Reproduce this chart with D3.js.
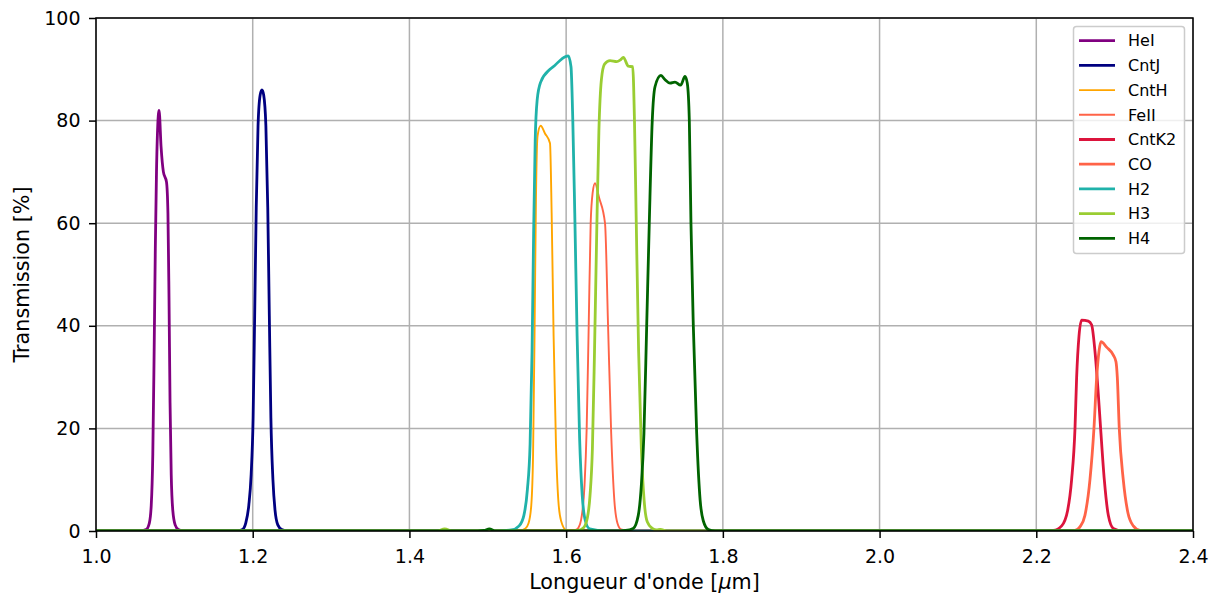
<!DOCTYPE html>
<html><head><meta charset="utf-8">
<script src="https://cdn.jsdelivr.net/npm/d3@7"></script>
<style>body{margin:0;background:#fff}svg{display:block}text{font-family:"DejaVu Sans",sans-serif}</style>
</head><body><svg id="c" width="1217" height="594"></svg>
<script>
const xTicks = [1.0,1.2,1.4,1.6,1.8,2.0,2.2,2.4];
const yTicks = [0,20,40,60,80,100];
const names = ["HeI","CntJ","CntH","FeII","CntK2","CO","H2","H3","H4"];
const colors = ["#800080","#000080","#FFA500","#FF6347","#DC143C","#FF6347","#20B2AA","#9ACD32","#006400"];
const widths = [2.8,2.8,1.9,1.9,2.8,2.8,2.8,2.8,2.8];

const HeI = [[0.95,0],[1.055,0],[1.064,0.3],[1.068,1.5],[1.0705,5],[1.0725,15],[1.0742,35],[1.0757,55],[1.0772,70],[1.0788,79],[1.0805,82],[1.0830,75],[1.0860,70],[1.0900,68],[1.0918,62],[1.0932,45],[1.0945,25],[1.0960,11],[1.0980,4],[1.101,1.2],[1.105,0.3],[1.112,0],[2.45,0]];
const CntJ = [[0.95,0],[1.180,0],[1.187,0.3],[1.191,1.5],[1.195,5],[1.198,11],[1.2005,22],[1.2025,42],[1.2045,63],[1.2068,79],[1.2095,85],[1.2118,86],[1.214,85],[1.2168,79],[1.2192,63],[1.2212,42],[1.2232,22],[1.2258,10],[1.2285,4],[1.232,1.2],[1.237,0.3],[1.245,0],[2.45,0]];
const CntH = [[0.95,0],[1.50,0],[1.540,0.1],[1.548,0.5],[1.552,1.5],[1.5555,5],[1.5578,15],[1.5598,40],[1.5615,65],[1.5635,77],[1.5675,79],[1.573,77.5],[1.5794,75.6],[1.5815,62],[1.5840,38],[1.5870,17],[1.590,6],[1.5935,2],[1.600,0.2],[1.62,0],[2.45,0]];
const FeII = [[0.95,0],[1.60,0],[1.612,0.2],[1.6155,0.6],[1.620,3],[1.6235,9],[1.6262,20],[1.6288,40],[1.6313,60],[1.6339,66],[1.6368,67.8],[1.642,65],[1.6496,60],[1.6535,40],[1.6575,19],[1.6615,6],[1.6655,1.5],[1.6700,0.3],[1.68,0],[2.45,0]];
const CntK2 = [[0.95,0],[2.20,0],[2.2218,0.1],[2.2324,1],[2.240,4],[2.2451,10],[2.2494,20],[2.2515,30],[2.2545,38],[2.2579,41.1],[2.2664,40.9],[2.2706,40.2],[2.2749,35],[2.2790,27],[2.2821,20],[2.2868,10],[2.292,3],[2.2983,0.5],[2.310,0],[2.45,0]];
const CO = [[0.95,0],[2.23,0],[2.2494,0.1],[2.2557,0.8],[2.262,3],[2.2685,10],[2.2736,20],[2.2771,30],[2.2800,35],[2.2825,36.9],[2.2900,35.8],[2.2983,34.3],[2.3017,33],[2.3034,30],[2.3059,20],[2.3110,10],[2.317,3.5],[2.3238,1],[2.3323,0.1],[2.345,0],[2.45,0]];
const H2 = [[0.95,0],[1.50,0],[1.530,0.2],[1.540,1],[1.546,3],[1.5505,8],[1.5540,17],[1.5565,35],[1.5585,58],[1.5605,76],[1.5630,84],[1.5675,87.5],[1.5794,90],[1.5858,90.8],[1.5943,92],[1.6027,92.6],[1.6062,90.5],[1.6085,80],[1.6110,62],[1.6140,38],[1.6172,18],[1.6205,7],[1.6245,2],[1.630,0.4],[1.65,0],[2.45,0]];
const H3 = [[0.95,0],[1.435,0],[1.445,0.4],[1.455,0],[1.60,0],[1.615,0.1],[1.6219,0.6],[1.627,2.5],[1.6305,7],[1.6335,16],[1.6362,35],[1.6390,58],[1.6418,78],[1.6450,88],[1.6490,91],[1.6560,91.7],[1.6645,91.5],[1.6690,91.8],[1.6730,92.3],[1.6794,90.6],[1.6849,90.5],[1.6872,80],[1.6895,60],[1.6925,35],[1.6960,16],[1.6995,6],[1.7035,1.8],[1.710,0.5],[1.7155,0.2],[1.72,0.3],[1.73,0],[2.45,0]];
const H4 = [[0.95,0],[1.48,0],[1.495,0.1],[1.502,0.4],[1.510,0],[1.66,0],[1.676,0.1],[1.6856,0.5],[1.692,3],[1.696,9],[1.6993,19],[1.7028,40],[1.7061,60],[1.7099,80],[1.7134,86.6],[1.7210,88.8],[1.7260,88],[1.7325,87.3],[1.7389,87.5],[1.7461,86.9],[1.7517,88.6],[1.7546,87.3],[1.7572,80],[1.7593,60],[1.7623,40],[1.7666,19],[1.771,6],[1.7750,2],[1.7814,0.3],[1.79,0],[2.45,0]];
const series = [HeI,CntJ,CntH,FeII,CntK2,CO,H2,H3,H4];

const svg = d3.select("#c");
const L=96,R=1193,T=18,B=531;
const x = d3.scaleLinear().domain([1.0,2.4]).range([L,R]);
const y = d3.scaleLinear().domain([0,100]).range([B,T]);

svg.append("defs").append("clipPath").attr("id","clip").append("rect")
  .attr("x",L).attr("y",T).attr("width",R-L).attr("height",B-T);

// grid
const g = svg.append("g");
g.selectAll(".vg").data(xTicks).join("line")
  .attr("x1",d=>x(d)).attr("x2",d=>x(d)).attr("y1",T).attr("y2",B)
  .attr("stroke","#b0b0b0").attr("stroke-width",1.5);
g.selectAll(".hg").data(yTicks).join("line")
  .attr("y1",d=>y(d)).attr("y2",d=>y(d)).attr("x1",L).attr("x2",R)
  .attr("stroke","#b0b0b0").attr("stroke-width",1.5);

// lines
const line = d3.line().x(d=>x(d[0])).y(d=>y(d[1])).curve(d3.curveMonotoneX);
const lg = svg.append("g").attr("clip-path","url(#clip)");
series.forEach((s,i)=>{
  lg.append("path").attr("d",line(s)).attr("fill","none")
    .attr("stroke",colors[i]).attr("stroke-width",widths[i])
    .attr("stroke-linejoin","round").attr("stroke-linecap","square");
});

// axes
const xa = svg.append("g").attr("transform",`translate(0,${B})`)
  .call(d3.axisBottom(x).tickValues(xTicks).tickFormat(d3.format(".1f")).tickSize(7).tickPadding(11.5));
const ya = svg.append("g").attr("transform",`translate(${L},0)`)
  .call(d3.axisLeft(y).tickValues(yTicks).tickSize(7).tickPadding(8.5));
[xa,ya].forEach(a=>{
  a.select(".domain").remove();
  a.selectAll("line").attr("stroke","#000").attr("stroke-width",1.5);
  a.selectAll("text").attr("font-size",19).attr("fill","#000").attr("font-family","DejaVu Sans");
});
svg.append("rect").attr("x",L).attr("y",T).attr("width",R-L).attr("height",B-T)
  .attr("fill","none").attr("stroke","#000").attr("stroke-width",1.5);

const xl = svg.append("text").attr("x",(L+R)/2).attr("y",588.5).attr("text-anchor","middle")
  .attr("font-size",20.7);
xl.append("tspan").text("Longueur d'onde [");
xl.append("tspan").attr("font-style","italic").text("μ");
xl.append("tspan").text("m]");

svg.append("text").attr("transform",`translate(28.5,${(T+B)/2}) rotate(-90)`)
  .attr("text-anchor","middle").attr("font-size",20.7).text("Transmission [%]");

// legend
const leg = svg.append("g");
leg.append("rect").attr("x",1073.5).attr("y",26.5).attr("width",111).attr("height",227).attr("rx",3)
  .attr("fill","#fff").attr("fill-opacity",0.8).attr("stroke","#cccccc").attr("stroke-width",1.5);
names.forEach((n,i)=>{
  const yy = 40.7 + i*24.7;
  leg.append("line").attr("x1",1079).attr("x2",1115).attr("y1",yy).attr("y2",yy)
    .attr("stroke",colors[i]).attr("stroke-width",widths[i]);
  leg.append("text").attr("x",1128).attr("y",yy).attr("dy","0.36em").attr("font-size",16).text(n);
});
</script></body></html>
